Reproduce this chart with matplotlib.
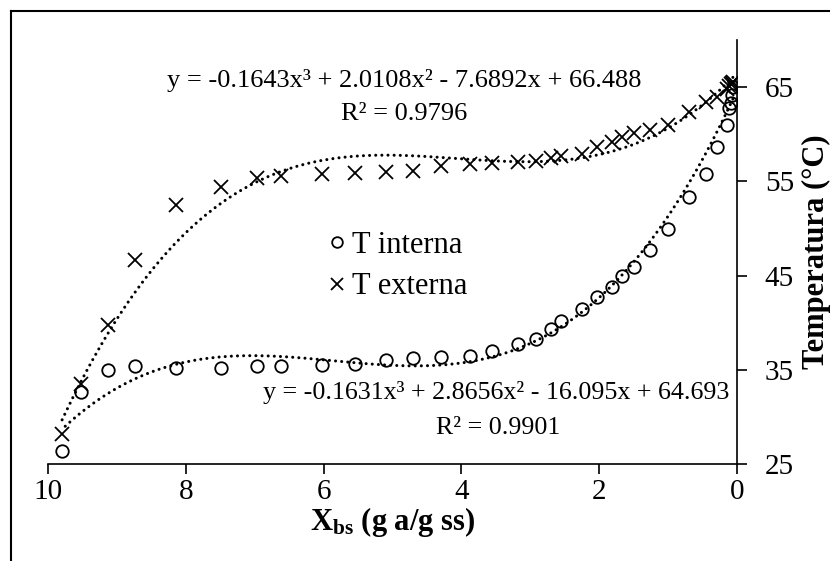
import numpy as np
import matplotlib
matplotlib.use('Agg')
import matplotlib.pyplot as plt
from matplotlib.lines import Line2D

plt.rcParams['font.family'] = 'Liberation Serif'
plt.rcParams['mathtext.fontset'] = 'custom'
plt.rcParams['mathtext.rm'] = 'Liberation Serif'
plt.rcParams['mathtext.bf'] = 'Liberation Serif:bold'

# moisture content (dry basis) and temperatures
xbs = [9.80, 9.52, 9.13, 8.74, 8.14, 7.49, 6.96, 6.62, 6.03, 5.55, 5.09, 4.70,
       4.30, 3.87, 3.56, 3.18, 2.92, 2.70, 2.56, 2.25, 2.03, 1.81, 1.67, 1.50,
       1.26, 1.00, 0.70, 0.45, 0.29, 0.15, 0.11, 0.08, 0.07, 0.06]
t_interna = [26.4, 32.6, 35.0, 35.4, 35.2, 35.2, 35.4, 35.45, 35.55, 35.65, 36.0, 36.2,
             36.35, 36.5, 37.0, 37.7, 38.3, 39.3, 40.2, 41.5, 42.7, 43.8, 45.0, 45.9,
             47.7, 49.9, 53.3, 55.8, 58.6, 61.0, 62.8, 63.3, 64.2, 65.0]
t_externa = [28.2, 33.5, 39.7, 46.6, 52.5, 54.4, 55.4, 55.6, 55.75, 55.9, 56.0, 56.1,
             56.6, 56.8, 56.9, 57.1, 57.2, 57.5, 57.7, 57.9, 58.6, 59.2, 59.7, 60.1,
             60.4, 61.0, 62.4, 63.4, 64.0, 64.8, 65.1, 65.3, 65.4, 65.5]

# cubic trendlines as printed on the chart
coef_interna = [-0.1631, 2.8656, -16.095, 64.693]
coef_externa = [-0.1643, 2.0108, -7.6892, 66.488]
eq_interna = 'y = -0.1631x³ + 2.8656x² - 16.095x + 64.693'
r2_interna = 'R² = 0.9901'
eq_externa = 'y = -0.1643x³ + 2.0108x² - 7.6892x + 66.488'
r2_externa = 'R² = 0.9796'

xticks = [10, 8, 6, 4, 2, 0]
yticks = [25, 35, 45, 55, 65]

W, H = 830, 561


def fx(px):
    return px / W


def fy(py):
    return 1 - py / H


fig = plt.figure(figsize=(W / 100, H / 100), dpi=100)

# outer chart frame (only left and top edges visible)
fig.add_artist(Line2D([fx(11), fx(11)], [0, fy(11)], color='black', lw=1.5))
fig.add_artist(Line2D([fx(11), 1], [fy(11), fy(11)], color='black', lw=1.5))

ax = fig.add_axes([fx(48), fy(464), fx(737) - fx(48), fy(40) - fy(464)])

xx = np.linspace(min(xbs), max(xbs), 300)
dots = dict(color='black', lw=2.2, linestyle=(0, (0.01, 2.0)), dash_capstyle='round')
ax.plot(xx, np.polyval(coef_interna, xx), **dots)
ax.plot(xx, np.polyval(coef_externa, xx), **dots)

ax.plot(xbs, t_interna, 'o', ms=9, mfc='none', mec='black', mew=1.3, label='T interna')
ax.plot(xbs, t_externa, 'x', ms=9.5, mec='black', mew=1.3, label='T externa')

ax.set_xlim(10, 0)
ax.set_ylim(25, 70)
ax.set_xticks(xticks)
ax.set_yticks(yticks)
ax.yaxis.tick_right()
ax.yaxis.set_label_position('right')
for s in ['left', 'top']:
    ax.spines[s].set_visible(False)
for s in ['right', 'bottom']:
    ax.spines[s].set_linewidth(1.2)
ax.tick_params(axis='x', direction='out', length=7, width=1.2, labelsize=21, pad=4)
ax.tick_params(axis='y', direction='out', length=7, width=1.2, labelsize=21, pad=13)

ax.set_xlabel(r'$\mathbf{X_{bs}}$ (g a/g ss)', fontsize=22, fontweight='bold', labelpad=0)
ax.set_ylabel('Temperatura (°C)', fontsize=22, fontweight='bold', labelpad=6)

leg = ax.legend(loc='center left', bbox_to_anchor=(fx(328), fy(266)),
                bbox_transform=fig.transFigure, frameon=False, fontsize=22,
                handlelength=0.6, handletextpad=0.2, labelspacing=0.42,
                borderpad=0, borderaxespad=0, markerscale=0.85)

fig.text(fx(404), fy(80), eq_externa, ha='center', va='center', fontsize=19)
fig.text(fx(404), fy(114), r2_externa, ha='center', va='center', fontsize=19)
fig.text(fx(496), fy(392), eq_interna, ha='center', va='center', fontsize=18.7)
fig.text(fx(498), fy(428), r2_interna, ha='center', va='center', fontsize=18.7)

fig.savefig('out.png', dpi=100)
